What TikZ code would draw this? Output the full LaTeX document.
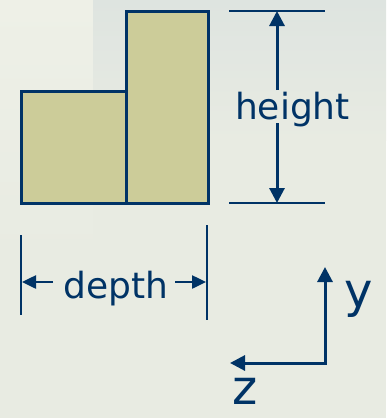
\documentclass[tikz,border=0pt]{standalone}
\usepackage{fontspec}
\setmainfont{DejaVu Sans}
\usetikzlibrary{arrows.meta}
\definecolor{navy}{HTML}{003366}
\definecolor{khaki}{HTML}{CCCC99}
\definecolor{bgbase}{HTML}{E8EBE2}
\definecolor{bglight}{HTML}{EEF0E7}
\definecolor{bgblue}{HTML}{DEE4E0}
\tikzset{
  box/.style={draw=navy, fill=khaki, line width=3pt, inner sep=0pt, outer sep=0pt},
  dimline/.style={draw=navy, line width=2.5pt},
  thinline/.style={draw=navy, line width=2pt},
  arr/.style={draw=navy, line width=3pt, -{Triangle[length=15pt,width=15pt]}},
  smallarr/.style={draw=navy, line width=2.5pt, -{Triangle[length=14pt,width=13pt]}},
  axis/.style={draw=navy, line width=3pt, line join=miter, {Triangle[length=15pt,width=15pt]}-{Triangle[length=15pt,width=15pt]}},
  lbl/.style={text=navy, font=\fontsize{36}{40}\selectfont, inner sep=0pt, anchor=base},
  axlbl/.style={text=navy, font=\fontsize{48}{52}\selectfont, inner sep=0pt, anchor=base}
}
\begin{document}
\begin{tikzpicture}[x=1pt,y=-1pt]
\useasboundingbox (0,0) rectangle (386,418);
% background
\fill[bgbase] (0,0) rectangle (386,418);
\shade[top color=bglight, bottom color=bgbase] (0,0) rectangle (93,260);
\shade[top color=bgblue, bottom color=bgbase] (93,0) rectangle (386,140);
% blocks
\node[box, minimum width=105pt, minimum height=112pt] (lowblk) at (73.5,147) {};
\node[box, minimum width=82pt, minimum height=192pt] (highblk) at (167,107) {};
% height dimension
\coordinate (htl) at (229,11); \coordinate (htr) at (325,11);
\coordinate (hbl) at (229,203); \coordinate (hbr) at (325,203);
\draw[dimline] (htl) -- (htr);
\draw[dimline] (hbl) -- (hbr);
\node[lbl] (height) at (292.5,119) {height};
\coordinate (hgapt) at (277,90); \coordinate (hgapb) at (277,123);
\coordinate (htip) at (277,11); \coordinate (btip) at (277,203);
\draw[arr] (hgapt) -- (htip);
\draw[arr] (hgapb) -- (btip);
% depth dimension
\coordinate (dl1) at (21,235); \coordinate (dl2) at (21,315);
\coordinate (dr1) at (207,225); \coordinate (dr2) at (207,320);
\draw[thinline] (dl1) -- (dl2);
\draw[thinline] (dr1) -- (dr2);
\node[lbl] (depth) at (116,298) {depth};
\coordinate (dla) at (53,282); \coordinate (dlt) at (22,282);
\coordinate (dra) at (175,282); \coordinate (drt) at (206,282);
\draw[smallarr] (dla) -- (dlt);
\draw[smallarr] (dra) -- (drt);
% axes
\coordinate (ytip) at (325,267);
\coordinate (origin) at (325,363);
\coordinate (ztip) at (230,363);
\draw[axis] (ytip) -- (origin) -- (ztip);
\node[axlbl] (ylbl) at (358.5,307) {y};
\node[axlbl] (zlbl) at (245,404) {z};
\end{tikzpicture}
\end{document}
